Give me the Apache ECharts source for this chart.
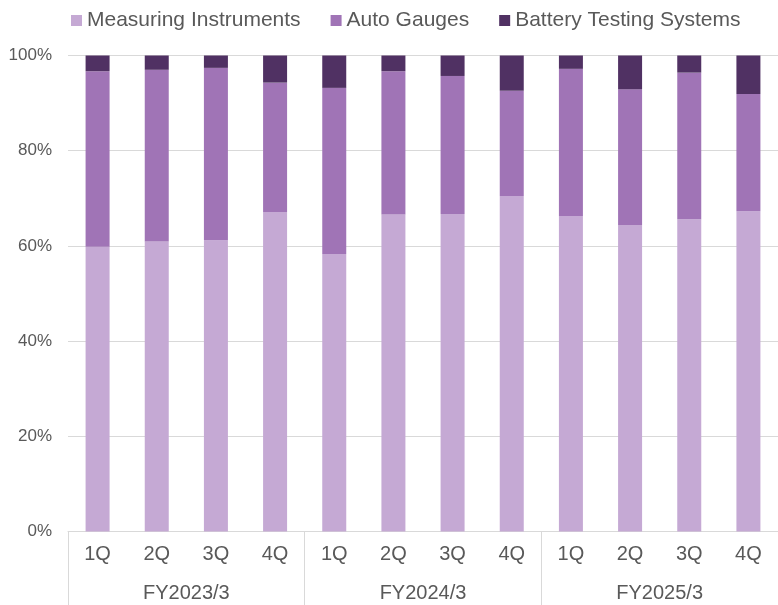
<!DOCTYPE html>
<html>
<head>
<meta charset="utf-8">
<script src="https://cdn.jsdelivr.net/npm/echarts@6/dist/echarts.min.js"></script>
<style>
html,body{margin:0;padding:0;background:#fff;}
#chart{width:778px;height:605px;}
</style>
</head>
<body>
<div id="chart"></div>
<script>
const quarters = ['1Q','2Q','3Q','4Q','1Q','2Q','3Q','4Q','1Q','2Q','3Q','4Q'];
const fiscalYears = ['FY2023/3','FY2024/3','FY2025/3'];
const seriesNames = ['Measuring Instruments','Auto Gauges','Battery Testing Systems'];
const measuring = [59.8, 60.9, 61.2, 67.1, 58.3, 66.6, 66.7, 70.5, 66.3, 64.4, 65.6, 67.3];
const autoGauges = [36.9, 36.1, 36.2, 27.2, 34.9, 30.1, 29.0, 22.1, 30.9, 28.5, 30.8, 24.6];
const battery = [3.3, 3.0, 2.6, 5.7, 6.8, 3.3, 4.3, 7.4, 2.8, 7.1, 3.6, 8.1];
const yTicks = [0, 20, 40, 60, 80, 100];

const colors = ['#C5A9D4', '#A074B6', '#503163'];
const font = 'Arial, "Liberation Sans", sans-serif';
const chart = echarts.init(document.getElementById('chart'));
const mk = (name, data, i) => ({
  name: name, type: 'bar', stack: 'total', data: data, barWidth: 24,
  xAxisIndex: 0,
  itemStyle: { color: colors[i] }
});
chart.setOption({
  animation: false,
  textStyle: { fontFamily: font },
  legend: {
    top: 5, left: 66, itemWidth: 11, itemHeight: 11, itemGap: 30, icon: 'rect',
    textStyle: { fontSize: 21, color: '#595959', fontFamily: font },
    data: seriesNames
  },
  grid: { left: 68, right: -2, top: 55.5, bottom: 73.5 },
  xAxis: [
    {
      type: 'category', data: quarters, position: 'bottom',
      axisLine: { show: false }, axisTick: { show: false },
      axisLabel: { fontSize: 20, color: '#595959', margin: 13, fontFamily: font }
    },
    {
      type: 'category', data: fiscalYears, position: 'bottom', boundaryGap: true,
      axisLine: { show: true, lineStyle: { color: '#d9d9d9', width: 1 } },
      axisTick: { show: true, length: 75, lineStyle: { color: '#d9d9d9', width: 1 } },
      axisLabel: { fontSize: 20, color: '#595959', margin: 52, fontFamily: font }
    }
  ],
  yAxis: {
    type: 'value', min: yTicks[0], max: yTicks[yTicks.length - 1], interval: 20,
    axisLine: { show: false }, axisTick: { show: false },
    axisLabel: { formatter: '{value}%', fontSize: 17, color: '#595959', margin: 16, fontFamily: font },
    splitLine: { lineStyle: { color: '#d9d9d9', width: 1 } }
  },
  series: [
    mk(seriesNames[0], measuring, 0),
    mk(seriesNames[1], autoGauges, 1),
    mk(seriesNames[2], battery, 2)
  ]
});
</script>
</body>
</html>
